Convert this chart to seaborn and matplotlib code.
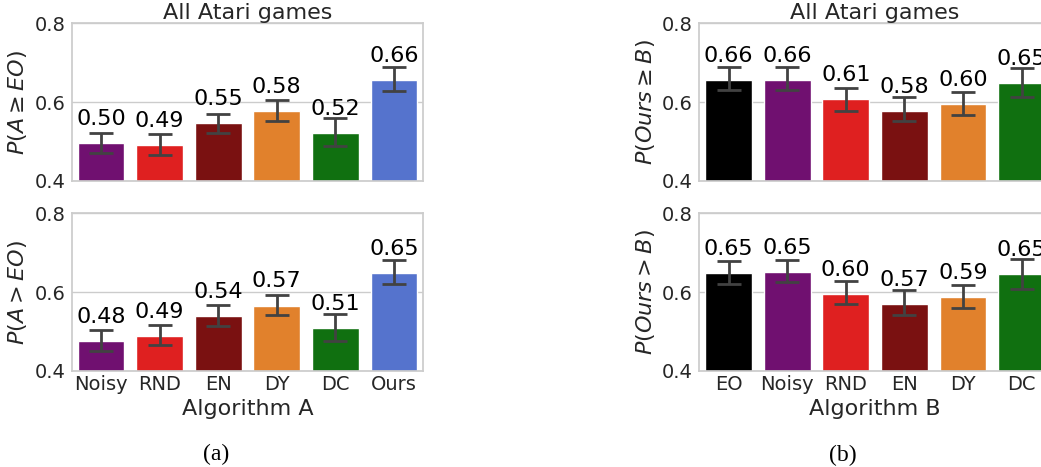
import numpy as np
import matplotlib
matplotlib.use("Agg")
import matplotlib.pyplot as plt
import seaborn as sns

# Algorithms compared against EO (panel a) and against Ours (panel b)
algos_a = ["Noisy", "RND", "EN", "DY", "DC", "Ours"]
algos_b = ["EO", "Noisy", "RND", "EN", "DY", "DC"]

algo_colors = {
    "EO": "black",
    "Noisy": "purple",
    "RND": "red",
    "EN": "darkred",
    "DY": "tab:orange",
    "DC": "green",
    "Ours": "royalblue",
}

# P(A >= EO) with 95% CI
geq_a = [0.497, 0.492, 0.546, 0.577, 0.522, 0.657]
geq_a_lo = [0.470, 0.466, 0.522, 0.553, 0.489, 0.629]
geq_a_hi = [0.522, 0.519, 0.571, 0.606, 0.559, 0.688]

# P(A > EO) with 95% CI
gt_a = [0.476, 0.489, 0.539, 0.566, 0.509, 0.648]
gt_a_lo = [0.451, 0.466, 0.514, 0.541, 0.476, 0.621]
gt_a_hi = [0.504, 0.517, 0.568, 0.593, 0.544, 0.681]

# P(Ours >= B) with 95% CI
geq_b = [0.656, 0.656, 0.607, 0.578, 0.596, 0.648]
geq_b_lo = [0.630, 0.630, 0.578, 0.553, 0.567, 0.614]
geq_b_hi = [0.688, 0.688, 0.637, 0.613, 0.626, 0.686]

# P(Ours > B) with 95% CI
gt_b = [0.648, 0.650, 0.596, 0.571, 0.587, 0.646]
gt_b_lo = [0.621, 0.625, 0.571, 0.543, 0.561, 0.607]
gt_b_hi = [0.680, 0.681, 0.628, 0.606, 0.618, 0.684]

y_ticks = [0.4, 0.6, 0.8]

sns.set_theme(style="whitegrid")
plt.rcParams["font.family"] = ["DejaVu Sans"]
plt.rcParams["mathtext.fontset"] = "dejavusans"

TICK_FS = 14
LABEL_FS = 16
VALUE_FS = 16
ERR_COLOR = "#424242"

W, H = 1041, 467
fig = plt.figure(figsize=(W / 100, H / 100), dpi=100)


def px_axes(x0, y_top, w, h):
    return fig.add_axes([x0 / W, 1 - (y_top + h) / H, w / W, h / H])


def draw_panel(ax, names, vals, lo, hi, ylabel, xlabel=None, title=None):
    vals = np.asarray(vals)
    sns.barplot(x=names, y=vals, hue=names, palette=[algo_colors[n] for n in names],
                legend=False, errorbar=None, ax=ax, width=0.8)
    xs = np.arange(len(names))
    ax.errorbar(xs, vals, yerr=[vals - np.asarray(lo), np.asarray(hi) - vals],
                fmt="none", ecolor=ERR_COLOR, elinewidth=2, capsize=8.3, capthick=2,
                zorder=4)
    for x, v in zip(xs, vals):
        ax.annotate(f"{v:.2f}", (x, v), xytext=(0, 13), textcoords="offset points",
                    ha="center", va="baseline", fontsize=VALUE_FS, color="black",
                    annotation_clip=False)
    ax.set_ylim(0.4, 0.8)
    ax.set_xlim(-0.5, len(names) - 0.5)
    ax.set_yticks(y_ticks)
    ax.set_yticklabels([f"{t:.1f}" for t in y_ticks])
    ax.tick_params(axis="both", labelsize=TICK_FS, colors=".15", length=0)
    ax.tick_params(axis="y", pad=4.5)
    ax.tick_params(axis="x", pad=3)
    ax.set_ylabel(ylabel, fontsize=LABEL_FS, color=".15", labelpad=4)
    if xlabel is None:
        ax.set_xticklabels([])
        ax.set_xlabel("")
    else:
        ax.set_xlabel(xlabel, fontsize=LABEL_FS, color=".15", labelpad=3.5)
    if title:
        ax.set_title(title, fontsize=LABEL_FS, color=".15", pad=2)
    for s in ax.spines.values():
        s.set_color("#cccccc")


ax_a1 = px_axes(71.7, 23.3, 351.6, 157.7)
ax_a2 = px_axes(71.7, 213.3, 351.6, 157.7)
ax_b1 = px_axes(699.3, 23.3, 351.6, 157.7)
ax_b2 = px_axes(699.3, 213.3, 351.6, 157.7)

draw_panel(ax_a1, algos_a, geq_a, geq_a_lo, geq_a_hi, r"$P(A \geq EO)$",
           title="All Atari games")
draw_panel(ax_a2, algos_a, gt_a, gt_a_lo, gt_a_hi, r"$P(A > EO)$",
           xlabel="Algorithm A")
draw_panel(ax_b1, algos_b, geq_b, geq_b_lo, geq_b_hi, r"$P(Ours \geq B)$",
           title="All Atari games")
draw_panel(ax_b2, algos_b, gt_b, gt_b_lo, gt_b_hi, r"$P(Ours > B)$",
           xlabel="Algorithm B")

fig.text(216 / W, 1 - 454 / H, "(a)", family="Liberation Serif", fontsize=17,
         ha="center", va="center", color="black")
fig.text(842.5 / W, 1 - 455 / H, "(b)", family="Liberation Serif", fontsize=17,
         ha="center", va="center", color="black")

fig.savefig("out.png", dpi=100)
